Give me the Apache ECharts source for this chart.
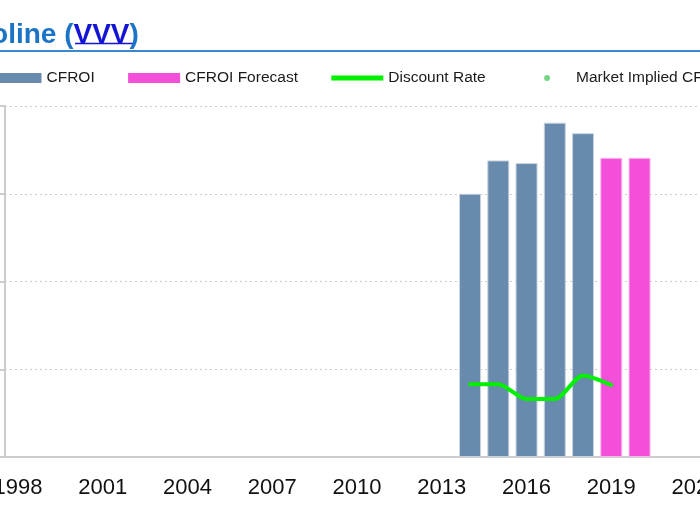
<!DOCTYPE html>
<html>
<head>
<meta charset="utf-8">
<script src="https://cdn.jsdelivr.net/npm/echarts@6/dist/echarts.min.js"></script>
<style>
html,body{margin:0;padding:0;background:#fff;}
#chart{width:700px;height:525px;}
</style>
</head>
<body>
<div id="chart"></div>
<script>
// ---- data ----
var years = [2014, 2015, 2016, 2017, 2018, 2019, 2020];
var cfroi = [15.0, 16.9, 16.75, 19.05, 18.45, null, null];
var cfroiForecast = [null, null, null, null, null, 17.05, 17.05];
var discountRate = [4.15, 4.15, 3.3, 3.3, 4.65, 4.1, null];
var marketImplied = [];
var tickYears = [1998, 2001, 2004, 2007, 2010, 2013, 2016, 2019, 2022];
var titleName = 'Valvoline';
var titleTicker = 'VVV';

function pairs(vals) {
  var out = [];
  for (var i = 0; i < years.length; i++) {
    if (vals[i] !== null) out.push([years[i], vals[i]]);
  }
  return out;
}

var chart = echarts.init(document.getElementById('chart'), null, {renderer: 'canvas'});
var font = '"Liberation Sans", Arial, Helvetica, sans-serif';

var option = {
  backgroundColor: '#ffffff',
  animation: false,
  title: {
    text: '{a|' + titleName + ' (}{b|' + titleTicker + '}{a|)}',
    left: -70,
    top: 16,
    textStyle: {
      rich: {
        a: {fontFamily: font, fontSize: 28, fontWeight: 'bold', color: '#1c74c6'},
        b: {fontFamily: font, fontSize: 28, fontWeight: 'bold', color: '#1414d4'}
      }
    }
  },
  graphic: [
    {type: 'line', shape: {x1: 0, y1: 51, x2: 700, y2: 51}, style: {stroke: '#3d87cf', lineWidth: 2}},
    {type: 'line', shape: {x1: 75, y1: 43.5, x2: 135, y2: 43.5}, style: {stroke: '#1414d4', lineWidth: 1.5}}
  ],
  legend: {
    left: -15.5,
    top: 65,
    width: 1200,
    itemWidth: 52,
    itemHeight: 10,
    itemGap: 33.4,
    textStyle: {fontFamily: font, fontSize: 15.5, color: '#1a1a1a'},
    data: [
      {name: 'CFROI', icon: 'rect', itemStyle: {color: '#688bad', borderWidth: 0}},
      {name: 'CFROI Forecast', icon: 'rect', itemStyle: {color: '#f34fd8', borderWidth: 0}},
      {name: 'Discount Rate', icon: 'path://M0,0 M0,2.5H52V7.5H0Z M52,10', itemStyle: {color: '#00f000', borderWidth: 0}},
      {name: 'Market Implied CFROI', icon: 'path://M0,0 M25,5 a3,3 0 1,0 6,0 a3,3 0 1,0 -6,0 M52,10', itemStyle: {color: '#55cc66', borderWidth: 0}}
    ]
  },
  grid: {left: 5, right: 0, top: 106, bottom: 68, containLabel: false, outerBoundsMode: 'none'},
  xAxis: {
    type: 'value',
    min: 1997.538,
    max: 2022.14,
    axisLine: {show: true, lineStyle: {color: '#cccccc', width: 2}},
    axisTick: {show: false},
    splitLine: {show: false},
    axisLabel: {
      customValues: tickYears,
      fontFamily: font, fontSize: 22, color: '#111',
      margin: 20,
      hideOverlap: false,
      formatter: function (v) { return String(v); }
    }
  },
  yAxis: {
    type: 'value',
    min: 0, max: 20, interval: 5,
    axisLine: {show: true, lineStyle: {color: '#cccccc', width: 2}},
    axisTick: {show: true, length: 6, lineStyle: {color: '#cccccc', width: 2}},
    axisLabel: {fontFamily: font, fontSize: 16, color: '#111'},
    splitLine: {show: true, lineStyle: {color: '#cccccc', type: [2, 3], width: 1}}
  },
  series: [
    {
      name: 'CFROI', type: 'bar', barWidth: 22,
      data: pairs(cfroi),
      itemStyle: {color: '#688bad', borderColor: '#c8d3df', borderWidth: 1}
    },
    {
      name: 'CFROI Forecast', type: 'bar', barWidth: 22, barGap: '-100%',
      data: pairs(cfroiForecast),
      itemStyle: {color: '#f34fd8', borderColor: '#f7b8ec', borderWidth: 1}
    },
    {
      name: 'Discount Rate', type: 'line',
      data: pairs(discountRate),
      smooth: 0.25, showSymbol: false, symbol: 'none',
      lineStyle: {color: '#00f000', width: 4, cap: 'round', join: 'round'},
      itemStyle: {color: '#00f000'},
      z: 5
    },
    {
      name: 'Market Implied CFROI', type: 'scatter',
      data: marketImplied, symbolSize: 6,
      itemStyle: {color: '#55cc66'}
    }
  ]
};
chart.setOption(option);
</script>
</body>
</html>
